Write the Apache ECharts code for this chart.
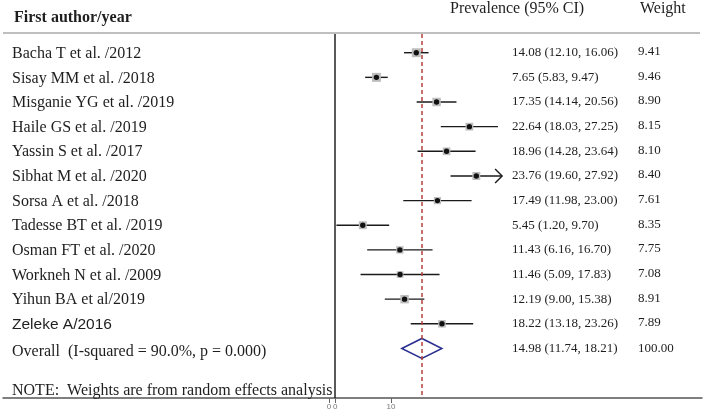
<!DOCTYPE html>
<html><head><meta charset="utf-8">
<script src="https://cdn.jsdelivr.net/npm/echarts@6/dist/echarts.min.js"></script>
<style>html,body{margin:0;padding:0;background:#fff}#c{width:704px;height:416px}</style>
</head><body><div id="c"></div>
<script>
// ---- data ----
const studies = ["Bacha T et al. /2012","Sisay MM et al. /2018","Misganie YG et al. /2019","Haile GS et al. /2019","Yassin S et al. /2017","Sibhat M et al. /2020","Sorsa A et al. /2018","Tadesse BT et al. /2019","Osman FT et al. /2020","Workneh N et al. /2009","Yihun BA et al/2019","Zeleke A/2016"];
const estimates = [14.08, 7.65, 17.35, 22.64, 18.96, 23.76, 17.49, 5.45, 11.43, 11.46, 12.19, 18.22];
const lowerCI  = [12.10, 5.83, 14.14, 18.03, 14.28, 19.60, 11.98, 1.20, 6.16, 5.09, 9.00, 13.18];
const upperCI  = [16.06, 9.47, 20.56, 27.25, 23.64, 27.92, 23.00, 9.70, 16.70, 17.83, 15.38, 23.26];
const weights  = [9.41, 9.46, 8.90, 8.15, 8.10, 8.40, 7.61, 8.35, 7.75, 7.08, 8.91, 7.89];
const overallLabel = "Overall  (I-squared = 90.0%, p = 0.000)";
const overallEst = 14.98, overallLo = 11.74, overallHi = 18.21, overallWeight = 100.00;
const noteText = "NOTE:  Weights are from random effects analysis";
const headers = ["First author/year", "Prevalence (95% CI)", "Weight"];
const tickValues = [0, 1, 10];
const tickLabels = ["0", "0", "10"];
const refLineValue = 1;

// ---- rendering ----
const serif = '"Liberation Serif", "Times New Roman", serif';
const sans = '"Liberation Sans", Arial, sans-serif';
const txt = '#1e1e1e';
const fmt = v => v.toFixed(2);

const studyData = studies.map((s, i) => [i, estimates[i], lowerCI[i], upperCI[i], weights[i]]);

function renderStudy(params, api) {
  const i = api.value(0), e = api.value(1), lo = api.value(2), hi = api.value(3), w = api.value(4);
  const pE = api.coord([e, i]), pL = api.coord([lo, i]), pH = api.coord([hi, i]);
  const s = w * 0.95;
  const y = pE[1];
  const name = studies[i];
  const isSans = name.indexOf('Zeleke') === 0;
  const ch = [
    {type:'line', shape:{x1:pL[0], y1:y, x2:pH[0], y2:y}, style:{stroke:'#1a1a1a', lineWidth:1.4}},
    {type:'rect', shape:{x:pE[0]-s/2, y:y-s/2, width:s, height:s}, style:{fill:'#bdbdbd'}},
    {type:'circle', shape:{cx:pE[0], cy:y, r:2.7}, style:{fill:'#111'}},
    {type:'text', style:{x:12, y: y + 1, text:name, font: isSans ? ('15.5px ' + sans) : ('16px ' + serif), fill:txt, verticalAlign:'middle', align:'left'}},
    {type:'text', style:{x:512, y:y, text: fmt(e) + ' (' + fmt(lo) + ', ' + fmt(hi) + ')', font:'13px ' + serif, fill:txt, verticalAlign:'middle', align:'left'}},
    {type:'text', style:{x:638, y:y - 1, text: fmt(w), font:'13px ' + serif, fill:txt, verticalAlign:'middle', align:'left'}}
  ];
  if (hi > 27.5) {
    ch.push({type:'polyline', shape:{points:[[pH[0]-7, y-7],[pH[0], y],[pH[0]-7, y+7]]}, style:{stroke:'#1a1a1a', lineWidth:1.4, fill:null}});
  }
  return {type:'group', children: ch};
}

function renderOverall(params, api) {
  const i = api.value(0), e = api.value(1), lo = api.value(2), hi = api.value(3);
  const pE = api.coord([e, i]), pL = api.coord([lo, i]), pH = api.coord([hi, i]);
  const y = pE[1], h = 10;
  return {type:'group', children:[
    {type:'polygon', shape:{points:[[pL[0], y],[pE[0], y-h],[pH[0], y],[pE[0], y+h]]}, style:{fill:null, stroke:'#2b2f8f', lineWidth:1.5}},
    {type:'text', style:{x:12, y:y + 3, text: overallLabel, font:'16px ' + serif, fill:txt, verticalAlign:'middle', align:'left'}},
    {type:'text', style:{x:512, y:y, text: fmt(e) + ' (' + fmt(lo) + ', ' + fmt(hi) + ')', font:'13px ' + serif, fill:txt, verticalAlign:'middle', align:'left'}},
    {type:'text', style:{x:638, y:y, text: fmt(overallWeight), font:'13px ' + serif, fill:txt, verticalAlign:'middle', align:'left'}}
  ]};
}

function renderNote(params, api) {
  const p = api.coord([0, api.value(0)]);
  return {type:'text', style:{x:12, y:p[1], text: noteText, font:'16px ' + serif, fill:txt, verticalAlign:'middle', align:'left'}};
}

const chart = echarts.init(document.getElementById('c'));
chart.setOption({
  animation: false,
  grid: {left: 3, right: 2, top: 34, bottom: 18, containLabel: false},
  xAxis: {
    type: 'value', min: -52.58, max: 60.16,
    splitLine: {show: false},
    axisLine: {show: true, onZero: false, lineStyle: {color: '#555', width: 1.5}},
    axisTick: {show: true, customValues: tickValues, length: 5, lineStyle: {color: '#666', width: 1}},
    axisLabel: {show: true, customValues: tickValues, formatter: v => tickLabels[tickValues.indexOf(v)], color: '#777', fontSize: 8, margin: 5, fontFamily: sans}
  },
  yAxis: {
    type: 'value', inverse: true, min: -0.759, max: 14.01,
    show: false, splitLine: {show: false}
  },
  graphic: [
    {type:'text', left: 14, top: 10, style:{text: headers[0], font:'bold 16px ' + serif, fill: txt}},
    {type:'text', left: 450, top: 1, style:{text: headers[1], font:'16px ' + serif, fill: txt}},
    {type:'text', left: 640, top: 1, style:{text: headers[2], font:'16px ' + serif, fill: txt}},
    {type:'line', shape:{x1: 3, y1: 33, x2: 700, y2: 33}, style:{stroke:'#aaa', lineWidth: 1.5}}
  ],
  series: [
    {
      type: 'custom', clip: false, renderItem: renderStudy, data: studyData,
      markLine: {
        silent: true, symbol: ['none','none'], label: {show: false},
        data: [
          {xAxis: refLineValue, lineStyle: {color: '#222', type: 'solid', width: 1.5}},
          {xAxis: overallEst, lineStyle: {color: '#b5403a', type: [4, 3], width: 1.5}}
        ]
      }
    },
    {type: 'custom', clip: false, renderItem: renderOverall, data: [[12, overallEst, overallLo, overallHi]]},
    {type: 'custom', clip: false, renderItem: renderNote, data: [[13.72]]}
  ]
});
</script>
</body></html>
